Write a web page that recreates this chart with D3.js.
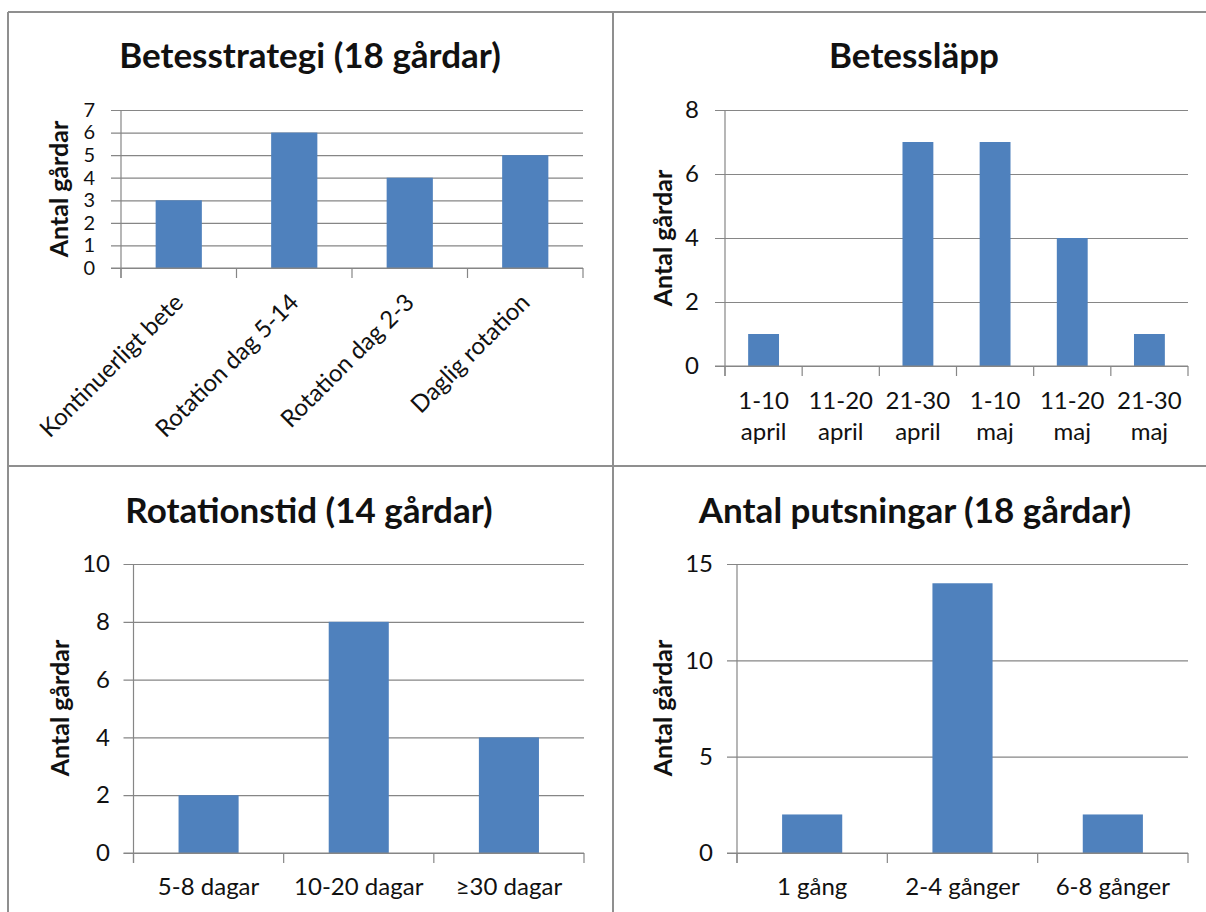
<!DOCTYPE html>
<html>
<head>
<meta charset="utf-8">
<script src="https://cdn.jsdelivr.net/npm/d3@7"></script>
<style>
  html, body { margin: 0; padding: 0; background: #fff; }
  svg { display: block; }
  text { font-family: Lato, "Open Sans", sans-serif; fill: #111; }
</style>
</head>
<body>
<script>
// ---- data ----
const strategyCategories = ["Kontinuerligt bete", "Rotation dag 5-14", "Rotation dag 2-3", "Daglig rotation"];
const strategyValues = [3, 6, 4, 5];
const strategyTicks = [0, 1, 2, 3, 4, 5, 6, 7];

const releaseCategories = ["1-10\napril", "11-20\napril", "21-30\napril", "1-10\nmaj", "11-20\nmaj", "21-30\nmaj"];
const releaseValues = [1, 0, 7, 7, 4, 1];
const releaseTicks = [0, 2, 4, 6, 8];

const rotationCategories = ["5-8 dagar", "10-20 dagar", "≥30 dagar"];
const rotationValues = [2, 8, 4];
const rotationTicks = [0, 2, 4, 6, 8, 10];

const mowingCategories = ["1 gång", "2-4 gånger", "6-8 gånger"];
const mowingValues = [2, 14, 2];
const mowingTicks = [0, 5, 10, 15];

const yAxisTitle = "Antal gårdar";

// ---- style / layout ----
const BAR = "#4F81BD";
const GRID = "#868686";
const BORDER = "#8f8f8f";
const TITLE_SIZE = 35, CAT_SIZE = 24, YTITLE_SIZE = 25;

const svg = d3.select("body").append("svg").attr("width", 1206).attr("height", 912);

// panel frames
const frame = svg.append("g").attr("stroke", BORDER).attr("stroke-width", 2).attr("fill", "none");
frame.append("line").attr("x1", 8).attr("x2", 1206).attr("y1", 12).attr("y2", 12);
frame.append("line").attr("x1", 8).attr("x2", 8).attr("y1", 12).attr("y2", 912);
frame.append("line").attr("x1", 613).attr("x2", 613).attr("y1", 12).attr("y2", 912);
frame.append("line").attr("x1", 8).attr("x2", 1206).attr("y1", 466).attr("y2", 466);

function drawPanel(cfg) {
  const g = svg.append("g");
  const x = d3.scaleBand().domain(cfg.categories).range([cfg.x0, cfg.x1])
    .paddingInner(0.6).paddingOuter(0.3);
  const y = d3.scaleLinear().domain([0, d3.max(cfg.ticks)]).range([cfg.y1, cfg.y0]);

  // title
  g.append("text").attr("x", cfg.titleX).attr("y", cfg.titleY)
    .attr("text-anchor", "middle").attr("font-weight", "bold")
    .attr("font-size", TITLE_SIZE).text(cfg.title);

  // y axis (gridlines + labels)
  const yAxis = d3.axisLeft(y).tickValues(cfg.ticks).tickFormat(d3.format("d"))
    .tickSizeInner(-(cfg.x1 - cfg.x0)).tickSizeOuter(0).tickPadding(cfg.tickPad);
  const ya = g.append("g").attr("transform", `translate(${cfg.x0},0)`).call(yAxis);
  ya.select(".domain").remove();
  ya.selectAll(".tick line").attr("x1", -10).attr("stroke", GRID).attr("stroke-width", 1.2);
  ya.selectAll(".tick text").attr("font-size", cfg.tickSize)
    .attr("font-family", "Lato, 'Open Sans', sans-serif").attr("fill", "#111");

  // bars
  g.append("g").selectAll("rect").data(cfg.values).join("rect")
    .attr("x", (d, i) => x(cfg.categories[i]))
    .attr("width", x.bandwidth())
    .attr("y", d => y(d))
    .attr("height", d => y(0) - y(d))
    .attr("fill", BAR);

  // axis lines
  g.append("line").attr("x1", cfg.x0).attr("x2", cfg.x0).attr("y1", cfg.y0).attr("y2", cfg.y1 + 10)
    .attr("stroke", GRID).attr("stroke-width", 1.2);
  g.append("line").attr("x1", cfg.x0 - 10).attr("x2", cfg.x1).attr("y1", y(0)).attr("y2", y(0))
    .attr("stroke", GRID).attr("stroke-width", 1.2);
  const bounds = d3.range(cfg.categories.length + 1).map(i => cfg.x0 + i * x.step());
  g.append("g").selectAll("line").data(bounds).join("line")
    .attr("x1", d => d).attr("x2", d => d).attr("y1", y(0)).attr("y2", y(0) + 10)
    .attr("stroke", GRID).attr("stroke-width", 1.2);

  // y title
  g.append("text")
    .attr("transform", `translate(${cfg.yTitleX},${cfg.yTitleY}) rotate(-90)`)
    .attr("text-anchor", "middle").attr("dy", "0.35em")
    .attr("font-weight", "bold").attr("font-size", YTITLE_SIZE).text(yAxisTitle);

  // category labels
  const labels = g.append("g").selectAll("text").data(cfg.categories).join("text")
    .attr("font-size", CAT_SIZE);
  if (cfg.rotate) {
    labels.attr("text-anchor", "end").attr("dy", "0.35em")
      .attr("transform", d => `translate(${x(d) + x.bandwidth() / 2},${y(0) + cfg.labelOffset}) rotate(-45)`)
      .text(d => d);
  } else {
    labels.attr("text-anchor", "middle")
      .each(function (d) {
        const lines = d.split("\n");
        const t = d3.select(this);
        lines.forEach((ln, k) => {
          t.append("tspan").attr("x", x(d) + x.bandwidth() / 2)
            .attr("y", y(0) + cfg.labelOffset + k * cfg.lineGap).text(ln);
        });
      });
  }
}

drawPanel({
  title: "Betesstrategi (18 gårdar)", titleX: 310, titleY: 68,
  categories: strategyCategories, values: strategyValues, ticks: strategyTicks,
  x0: 121, x1: 583, y0: 110, y1: 268, tickPad: 26, tickSize: 20,
  yTitleX: 59, yTitleY: 189, rotate: true, labelOffset: 30
});
drawPanel({
  title: "Betessläpp", titleX: 914, titleY: 68,
  categories: releaseCategories, values: releaseValues, ticks: releaseTicks,
  x0: 725, x1: 1188, y0: 110, y1: 366, tickPad: 26, tickSize: 24,
  yTitleX: 663, yTitleY: 238, labelOffset: 43, lineGap: 31
});
drawPanel({
  title: "Rotationstid (14 gårdar)", titleX: 309, titleY: 523,
  categories: rotationCategories, values: rotationValues, ticks: rotationTicks,
  x0: 133.5, x1: 584, y0: 564, y1: 853, tickPad: 23.5, tickSize: 24,
  yTitleX: 60, yTitleY: 708, labelOffset: 42, lineGap: 31
});
drawPanel({
  title: "Antal putsningar (18 gårdar)", titleX: 915, titleY: 523,
  categories: mowingCategories, values: mowingValues, ticks: mowingTicks,
  x0: 737, x1: 1188, y0: 564, y1: 853, tickPad: 24, tickSize: 24,
  yTitleX: 663, yTitleY: 708, labelOffset: 42, lineGap: 31
});
</script>
</body>
</html>
